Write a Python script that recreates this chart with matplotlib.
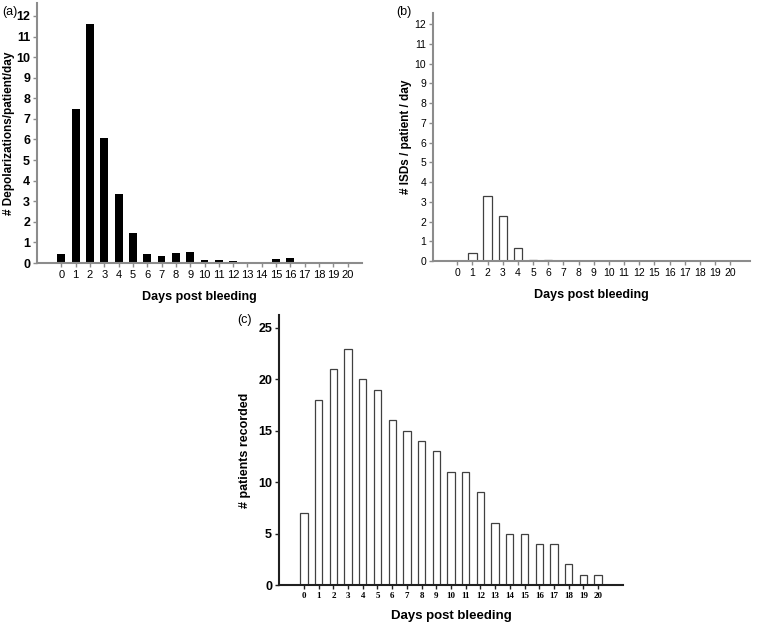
import matplotlib.pyplot as plt
import numpy as np

plt.rcParams['font.family'] = ['Liberation Sans', 'DejaVu Sans']

# (a) depolarizations per patient per day
days_a = [str(d) for d in range(21)]
depol = [0.42, 7.5, 11.6, 6.05, 3.35, 1.47, 0.42, 0.33, 0.5, 0.55,
         0.17, 0.17, 0.1, 0, 0, 0.2, 0.25, 0, 0, 0, 0]

# (b) ISDs per patient per day (days 13 and 14 absent)
days_b = [str(d) for d in list(range(13)) + [15, 16, 17, 18, 19, 20]]
isds = [0, 0.4, 3.3, 2.3, 0.65, 0.05, 0.05, 0, 0, 0,
        0, 0, 0, 0, 0, 0, 0, 0, 0]

# (c) patients recorded per day
days_c = [str(d) for d in range(21)]
patients = [7, 18, 21, 23, 20, 19, 16, 15, 14, 13,
            11, 11, 9, 6, 5, 5, 4, 4, 2, 1, 1]

W, H = 760, 624
fig = plt.figure(figsize=(W / 100, H / 100), dpi=100)


def px_axes(x0, y0, x1, y1):
    # pixel box (left, top, right, bottom) -> figure axes
    return fig.add_axes([x0 / W, 1 - y1 / H, (x1 - x0) / W, (y1 - y0) / H])


def style(ax, color, lw):
    for s in ['top', 'right']:
        ax.spines[s].set_visible(False)
    for s in ['left', 'bottom']:
        ax.spines[s].set_color(color)
        ax.spines[s].set_linewidth(lw)
    ax.tick_params(axis='both', direction='out', length=3, width=1,
                   color=color, pad=2)


# panel a
ax = px_axes(37, 3, 362, 263)
x = np.arange(len(days_a))
ax.bar(x, depol, width=0.55, color='black')
ax.set_xlim(-1.7, 21.0)
ax.set_ylim(0, 12.63)
ax.set_yticks(range(13))
ax.set_xticks(x)
ax.set_xticklabels(days_a)
style(ax, '#8c8c8c', 1.5)
for t in ax.get_yticklabels():
    t.set_fontsize(9)
    t.set_fontweight('bold')
for t in ax.get_xticklabels():
    t.set_fontsize(8)
ax.set_ylabel('# Depolarizations/patient/day', fontsize=8.5,
              fontweight='bold', labelpad=1)
ax.set_xlabel('Days post bleeding', fontsize=9, fontweight='bold',
              labelpad=8)
fig.text(2 / W, 1 - 12 / H, '(a)', fontsize=9, va='center')

# panel b
ax = px_axes(433, 13, 750, 261)
x = np.arange(len(days_b))
ax.bar(x, isds, width=0.55, color='white', edgecolor='#404040',
       linewidth=0.9)
ax.set_xlim(-1.6, 19.3)
ax.set_ylim(0, 12.56)
ax.set_yticks(range(13))
ax.set_xticks(x)
ax.set_xticklabels(days_b)
style(ax, '#8c8c8c', 1.5)
for t in ax.get_yticklabels() + ax.get_xticklabels():
    t.set_fontsize(7.5)
ax.set_ylabel('# ISDs / patient / day', fontsize=8.5,
              fontweight='bold', labelpad=1.5)
ax.set_xlabel('Days post bleeding', fontsize=9, fontweight='bold',
              labelpad=8)
fig.text(396 / W, 1 - 12 / H, '(b)', fontsize=9, va='center')

# panel c
ax = px_axes(279, 315, 623, 585)
x = np.arange(len(days_c))
ax.bar(x, patients, width=0.5, color='white', edgecolor='#404040',
       linewidth=0.9)
ax.set_xlim(-1.7, 21.7)
ax.set_ylim(0, 26.26)
ax.set_yticks(range(0, 26, 5))
ax.set_xticks(x)
ax.set_xticklabels(days_c)
style(ax, '#202020', 1.5)
for t in ax.get_yticklabels():
    t.set_fontsize(9)
    t.set_fontweight('bold')
for t in ax.get_xticklabels():
    t.set_fontsize(6.5)
    t.set_fontweight('bold')
    t.set_family(['Liberation Serif', 'DejaVu Serif'])
ax.set_ylabel('# patients recorded', fontsize=9, fontweight='bold',
              labelpad=5)
ax.set_xlabel('Days post bleeding', fontsize=9.5, fontweight='bold',
              labelpad=7)
fig.text(237 / W, 1 - 320 / H, '(c)', fontsize=9, va='center')

fig.savefig('out.png', dpi=100)
